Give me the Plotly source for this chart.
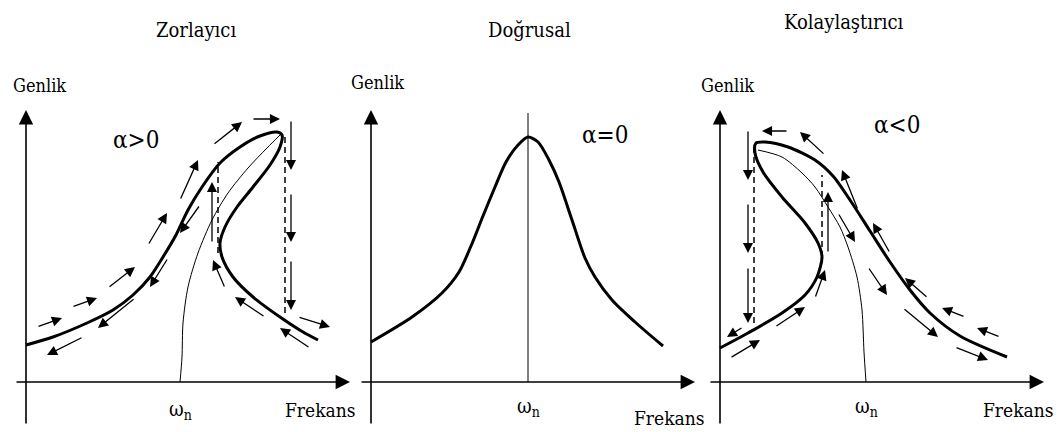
import plotly.graph_objects as go

W, H = 1061, 432
FONT = "DejaVu Serif Condensed, Liberation Serif, serif"

# Each panel uses its own frequency/amplitude axes (origin at the axis cross).
# Horizontal: frequency, vertical: amplitude (arbitrary units).

# ---------- Panel 1: Zorlayıcı (α>0, hardening) ----------
p1_freq = [0.00, 0.27, 0.61, 0.87, 1.07, 1.24, 1.37, 1.50, 1.62, 1.76, 1.94, 2.14,
           2.34, 2.51, 2.56, 2.54, 2.44, 2.27, 2.11, 1.99, 1.94, 1.96, 2.07, 2.27,
           2.54, 2.77, 2.92]
p1_amp = [0.37, 0.45, 0.59, 0.72, 0.87, 1.05, 1.25, 1.47, 1.72, 1.95, 2.19, 2.35,
          2.46, 2.50, 2.47, 2.35, 2.17, 1.95, 1.75, 1.55, 1.39, 1.25, 1.05, 0.85,
          0.65, 0.50, 0.42]
p1_backbone_freq = [1.54, 1.56, 1.57, 1.62, 1.72, 1.86, 2.02, 2.22, 2.41, 2.54]
p1_backbone_amp = [0.00, 0.25, 0.59, 0.95, 1.29, 1.62, 1.89, 2.14, 2.34, 2.47]
p1_jumps = [(1.92, 1.29, 2.20), (2.59, 0.69, 2.47)]  # freq, low amp, high amp
p1_arrows = [  # (tail freq, tail amp, head freq, head amp)
    (0.11, 0.55, 0.36, 0.64), (0.46, 0.75, 0.71, 0.84), (0.82, 0.94, 1.09, 1.15),
    (1.22, 1.37, 1.41, 1.69), (1.54, 1.82, 1.72, 2.22), (1.87, 2.37, 2.16, 2.60),
    (2.26, 2.63, 2.54, 2.63), (2.65, 2.62, 2.65, 2.12), (2.65, 1.89, 2.65, 1.40),
    (2.65, 1.22, 2.65, 0.72), (2.72, 0.65, 3.04, 0.55), (2.84, 0.34, 2.54, 0.54),
    (2.39, 0.65, 2.09, 0.85), (1.99, 0.94, 1.87, 1.22), (1.86, 1.39, 1.86, 2.00),
    (1.74, 1.77, 1.54, 1.49), (1.42, 1.24, 1.24, 0.95), (1.09, 0.84, 0.72, 0.54),
    (0.57, 0.45, 0.21, 0.27),
]
p1_wn = 1.54

# ---------- Panel 2: Doğrusal (α=0, linear) ----------
p2_freq = [0.00, 0.41, 0.71, 0.88, 1.00, 1.12, 1.24, 1.35, 1.47, 1.57, 1.67, 1.78,
           1.88, 2.01, 2.14, 2.24, 2.41, 2.64, 2.92]
p2_amp = [0.40, 0.65, 0.89, 1.10, 1.36, 1.66, 1.95, 2.20, 2.37, 2.45, 2.40, 2.22,
          2.00, 1.62, 1.24, 1.05, 0.82, 0.60, 0.36]
p2_wn = 1.57
p2_wn_line_top = 2.69

# ---------- Panel 3: Kolaylaştırıcı (α<0, softening) ----------
p3_freq = [0.00, 0.28, 0.62, 0.85, 0.97, 1.02, 0.98, 0.85, 0.62, 0.43, 0.35, 0.36,
           0.45, 0.68, 0.95, 1.13, 1.30, 1.50, 1.70, 1.90, 2.10, 2.40, 2.87]
p3_amp = [0.34, 0.49, 0.69, 0.87, 1.05, 1.25, 1.39, 1.59, 1.85, 2.10, 2.29, 2.39,
          2.40, 2.35, 2.22, 2.06, 1.82, 1.51, 1.20, 0.92, 0.69, 0.46, 0.25]
p3_backbone_freq = [1.46, 1.44, 1.42, 1.37, 1.28, 1.20, 1.08, 0.95, 0.82, 0.62, 0.38]
p3_backbone_amp = [0.00, 0.30, 0.72, 1.05, 1.35, 1.55, 1.75, 1.95, 2.09, 2.25, 2.32]
p3_jumps = [(0.34, 0.59, 2.39), (1.02, 1.25, 2.07)]
p3_arrows = [
    (0.10, 0.24, 0.40, 0.42), (0.55, 0.55, 0.85, 0.75), (0.95, 0.84, 1.05, 1.12),
    (1.08, 1.29, 1.08, 1.90), (1.18, 1.69, 1.35, 1.40), (1.48, 1.15, 1.67, 0.87),
    (1.83, 0.74, 2.18, 0.45), (2.35, 0.35, 2.68, 0.22), (2.80, 0.45, 2.57, 0.54),
    (2.45, 0.65, 2.22, 0.74), (2.08, 0.84, 1.85, 1.04), (1.70, 1.29, 1.53, 1.59),
    (1.38, 1.72, 1.22, 2.12), (1.05, 2.27, 0.80, 2.50), (0.68, 2.51, 0.42, 2.51),
    (0.28, 2.52, 0.28, 2.02), (0.28, 1.79, 0.28, 1.29), (0.28, 1.15, 0.28, 0.59),
    (0.23, 0.55, 0.07, 0.45),
]
p3_wn = 1.46

# Text per panel: title, regime label
titles = ["Zorlayıcı", "Doğrusal", "Kolaylaştırıcı"]
regimes = ["α>0", "α=0", "α<0"]
title_pos = [(1.70, 3.52), (1.58, 3.52), (1.23, 3.60)]
regime_pos = [(1.10, 2.42), (2.34, 2.47), (1.77, 2.57)]
genlik_pos = [(0.13, 2.97), (0.06, 3.00), (0.07, 2.97)]
frekans_pos = [(2.94, -0.28), (2.98, -0.36), (2.98, -0.28)]
wn_amp = [-0.28, -0.25, -0.25]

# ---------- layout geometry (pixels) ----------
origins = [(26, 382), (371, 382), (720, 382)]
domains_px = [(0, 358), (358, 703), (703, 1061)]
PX_PER_UNIT = 100.0

fig = go.Figure()
xr = ["x", "x2", "x3"]
yr = ["y", "y2", "y3"]

layout_axes = {}
for i in range(3):
    ox, oy = origins[i]
    d0, d1 = domains_px[i]
    xname = "xaxis" if i == 0 else f"xaxis{i+1}"
    yname = "yaxis" if i == 0 else f"yaxis{i+1}"
    layout_axes[xname] = dict(domain=[d0 / W, d1 / W],
                              range=[(d0 - ox) / PX_PER_UNIT, (d1 - ox) / PX_PER_UNIT],
                              visible=False, fixedrange=True, anchor=yr[i])
    layout_axes[yname] = dict(domain=[0, 1],
                              range=[(oy - H) / PX_PER_UNIT, oy / PX_PER_UNIT],
                              visible=False, fixedrange=True, anchor=xr[i])


def line(i, xs, ys, width, dash="solid"):
    fig.add_trace(go.Scatter(x=xs, y=ys, mode="lines", xaxis=xr[i], yaxis=yr[i],
                             line=dict(color="black", width=width, dash=dash),
                             hoverinfo="skip", showlegend=False))


def curve(i, xs, ys, width):
    fig.add_trace(go.Scatter(x=xs, y=ys, mode="lines", xaxis=xr[i], yaxis=yr[i],
                             line=dict(color="black", width=width, shape="spline",
                                       smoothing=0.8),
                             hoverinfo="skip", showlegend=False))


annotations = []


def arrow(i, tail_x, tail_y, head_x, head_y, width=1.3, size=1.55):
    annotations.append(dict(xref=xr[i], yref=yr[i], axref=xr[i], ayref=yr[i],
                            x=head_x, y=head_y, ax=tail_x, ay=tail_y, text="",
                            showarrow=True, arrowhead=2, arrowwidth=width,
                            arrowsize=size, arrowcolor="black", standoff=0))


def label(i, x, y, text, size=21):
    annotations.append(dict(xref=xr[i], yref=yr[i], x=x, y=y, text=text,
                            showarrow=False, font=dict(family=FONT, size=size,
                                                       color="black"),
                            xanchor="center", yanchor="middle"))


# axes with arrowheads
for i in range(3):
    arrow(i, 0, -0.43, 0, 2.72, width=1.6, size=1.8)
    arrow(i, -0.11, 0, 3.24, 0, width=1.6, size=1.8)

# panel 1
curve(0, p1_backbone_freq, p1_backbone_amp, 1.0)
curve(0, p1_freq, p1_amp, 3.0)
for f, lo, hi in p1_jumps:
    line(0, [f, f], [lo, hi], 1.5, dash="6px,4px")
for a in p1_arrows:
    arrow(0, *a)

# panel 2
line(1, [p2_wn, p2_wn], [0, p2_wn_line_top], 1.0)
curve(1, p2_freq, p2_amp, 3.0)

# panel 3
curve(2, p3_backbone_freq, p3_backbone_amp, 1.0)
curve(2, p3_freq, p3_amp, 3.0)
for f, lo, hi in p3_jumps:
    line(2, [f, f], [lo, hi], 1.5, dash="6px,4px")
for a in p3_arrows:
    arrow(2, *a)

wns = [p1_wn, p2_wn, p3_wn]
for i in range(3):
    label(i, title_pos[i][0], title_pos[i][1], titles[i], size=20)
    label(i, regime_pos[i][0], regime_pos[i][1], regimes[i], size=24)
    label(i, genlik_pos[i][0], genlik_pos[i][1], "Genlik", size=18)
    label(i, frekans_pos[i][0], frekans_pos[i][1], "Frekans", size=19)
    label(i, wns[i], wn_amp[i], "ω<sub>n</sub>", size=20)

fig.update_layout(width=W, height=H, margin=dict(l=0, r=0, t=0, b=0, pad=0),
                  paper_bgcolor="white", plot_bgcolor="white",
                  annotations=annotations, **layout_axes)

fig.write_html("out.html", config={"displayModeBar": False})
